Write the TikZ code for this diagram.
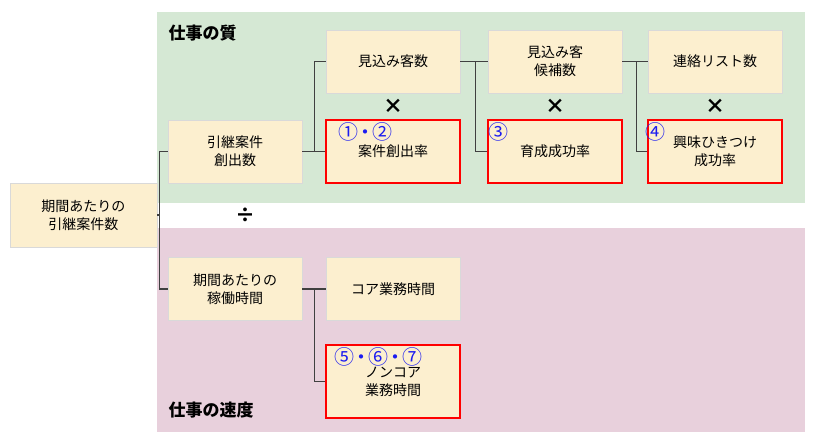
\documentclass[tikz,border=0pt]{standalone}
\usepackage{fontspec}
\setmainfont{Noto Sans CJK JP}
\usetikzlibrary{positioning}
\definecolor{boxfill}{HTML}{FCEFCF}
\definecolor{qualbg}{HTML}{D5E8D4}
\definecolor{speedbg}{HTML}{E8D0DC}
\definecolor{numblue}{HTML}{1C1CF0}

\begin{document}
\begin{tikzpicture}[
    x=1pt, y=-1pt,
    item/.style={rectangle, draw=black!15, fill=boxfill, minimum width=134pt, minimum height=63pt, align=center, font=\fontsize{14}{18}\selectfont, inner sep=0pt},
    target/.style={item, draw=red, line width=2.5pt},
    link/.style={draw=black!75, line width=1.3pt},
    num/.style={text=numblue, font=\fontsize{20}{20}\selectfont, inner sep=0pt, anchor=west},
    op/.style={font=\fontsize{20}{20}\selectfont\bfseries, inner sep=0pt}
]
\useasboundingbox (0,0) rectangle (815,442);

% Backgrounds
\fill[qualbg] (157,12) rectangle (805,203);
\fill[speedbg] (157,228) rectangle (805,432);
\node[anchor=west, font=\fontsize{17}{17}\selectfont\bfseries] (quality) at (165,33) {仕事の質};
\node[anchor=west, font=\fontsize{17}{17}\selectfont\bfseries] (speed) at (165,410) {仕事の速度};

% Nodes
\node[item, minimum width=147pt, minimum height=64pt] (total) at (83.5,215) {期間あたりの\\引継案件数};
\node[item] (deals) at (235,151.5) {引継案件\\創出数};
\node[item] (prospects) at (393,61.5) {見込み客数};
\node[target] (dealrate) at (393,151.5) {案件創出率};
\node[item] (candidates) at (555,61.5) {見込み客\\候補数};
\node[target] (nurture) at (555,151.5) {育成成功率};
\node[item] (contacts) at (715,61.5) {連絡リスト数};
\node[target] (interest) at (715,151.5) {興味ひきつけ\\成功率};
\node[item] (hours) at (235,289) {期間あたりの\\稼働時間};
\node[item] (core) at (393,289) {コア業務時間};
\node[target, minimum height=73pt] (noncore) at (393,381.5) {ノンコア\\業務時間};

% Markers
\node[num] (n12) at (338,132) {①\kern-3pt・\kern-3pt②};
\node[num] (n3) at (488,132) {③};
\node[num] (n4) at (645,132) {④};
\node[num] (n567) at (334,357) {⑤\kern-3pt・\kern-3pt⑥\kern-3pt・\kern-3pt⑦};
\node[op] (times1) at (393,106) {×};
\node[op] (times2) at (555,106) {×};
\node[op] (times3) at (715,106) {×};
\node[op] (divide) at (245,215) {÷};

% Connectors
\draw[link] (total.east) -- ++(2,0) |- (deals.west);
\draw[link] (total.east) -- ++(2,0) |- (hours.west);
\draw[link] (deals.east) -- ++(12,0) |- (prospects.west);
\draw[link] (deals.east) -- (dealrate.west);
\draw[link] (prospects.east) -- (candidates.west);
\draw[link] (prospects.east) -- ++(15,0) |- (nurture.west);
\draw[link] (candidates.east) -- (contacts.west);
\draw[link] (candidates.east) -- ++(14,0) |- (interest.west);
\draw[link] (hours.east) -- (core.west);
\draw[link] (hours.east) -- ++(12,0) |- (noncore.west);

\end{tikzpicture}
\end{document}
